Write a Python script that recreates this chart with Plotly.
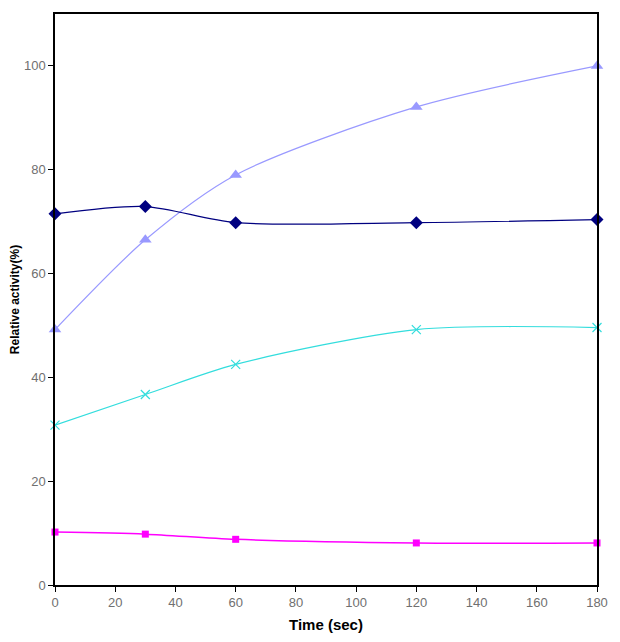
import plotly.graph_objects as go

time_sec = [0, 30, 60, 120, 180]
series_diamond = [71.5, 72.9, 69.8, 69.8, 70.4]
series_triangle = [49.2, 66.5, 79.0, 92.1, 100.0]
series_cross = [30.8, 36.7, 42.5, 49.2, 49.6]
series_square = [10.2, 9.8, 8.8, 8.1, 8.1]

x_ticks = [0, 20, 40, 60, 80, 100, 120, 140, 160, 180]
y_ticks = [0, 20, 40, 60, 80, 100]

fig = go.Figure()

def add(y, color, symbol, size, width=1.2):
    fig.add_trace(go.Scatter(
        x=time_sec, y=y, mode="lines+markers",
        line=dict(color=color, width=width, shape="spline", smoothing=0.8),
        marker=dict(color=color, symbol=symbol, size=size,
                    line=dict(color=color, width=1.2 if symbol == "x-thin" else 0)),
        showlegend=False, cliponaxis=False))

add(series_triangle, "#9999FF", "triangle-up", 11)
add(series_diamond, "#000080", "diamond", 10)
add(series_cross, "#33DDDD", "x-thin", 9)
add(series_square, "#FF00FF", "square", 7, width=1.5)

axis_common = dict(
    showgrid=False, zeroline=False, showline=True, linecolor="black", linewidth=1.5,
    mirror=True, ticks="outside", ticklen=5, tickcolor="black", automargin=False,
    tickfont=dict(family="Liberation Sans, Arial, sans-serif", size=13, color="#707070"),
)

fig.update_xaxes(range=[0, 180], tickvals=x_ticks,
                 title=dict(text="<b>Time (sec)</b>", standoff=10,
                            font=dict(family="Liberation Sans, Arial, sans-serif", size=15, color="black")),
                 **axis_common)
fig.update_yaxes(range=[0, 110], tickvals=y_ticks,
                 title=dict(text="<b>Relative activity(%)</b>", standoff=8,
                            font=dict(family="Liberation Sans, Arial, sans-serif", size=12, color="black")),
                 **axis_common)

fig.update_layout(width=604, height=626, margin=dict(l=47, r=15, t=6, b=49),
                  plot_bgcolor="white", paper_bgcolor="white")

fig.write_html("out.html")
